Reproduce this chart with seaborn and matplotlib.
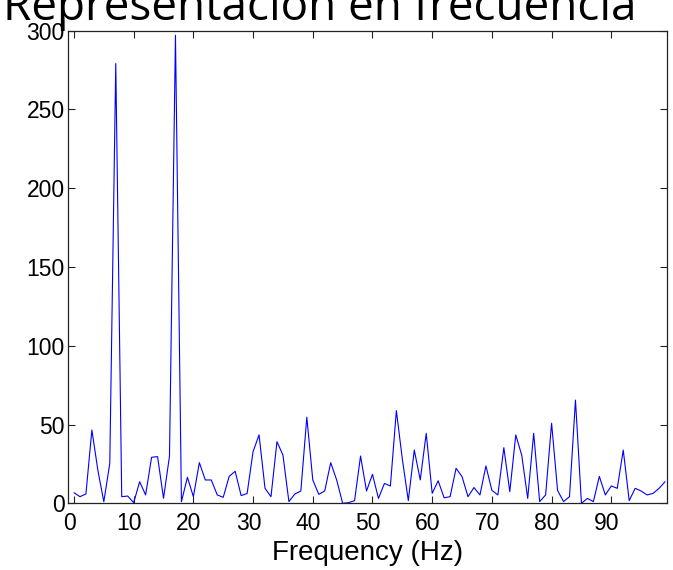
import numpy as np
import pandas as pd
import matplotlib
matplotlib.use("Agg")
import matplotlib.pyplot as plt
import matplotlib.transforms as mtransforms
import seaborn as sns

# Magnitude spectrum, one sample per Hz
freq_hz = list(range(0, 100))
magnitude = [
    6.7, 4.2, 5.9, 46.5, 21.0, 1.0, 25.4, 279.0, 4.2, 4.6,
    0.4, 13.7, 5.3, 29.2, 29.6, 3.2, 30.0, 297.0, 1.0, 16.5,
    4.2, 25.8, 14.8, 14.8, 5.3, 3.8, 17.1, 20.3, 4.9, 6.2,
    32.8, 43.4, 9.5, 4.2, 39.1, 30.6, 1.1, 5.9, 7.8, 54.6,
    14.8, 5.7, 7.8, 25.8, 14.8, 0.0, 0.4, 1.7, 30.0, 7.8,
    18.4, 3.1, 12.6, 11.0, 58.8, 28.0, 1.7, 33.8, 14.8, 44.4,
    6.3, 14.3, 3.5, 4.2, 22.2, 16.9, 4.2, 10.0, 5.3, 23.7,
    8.2, 5.3, 35.3, 7.4, 43.4, 30.5, 3.1, 44.4, 1.1, 5.3,
    50.8, 8.2, 1.1, 4.2, 65.5, 0.0, 3.1, 1.1, 17.1, 5.3,
    11.0, 9.5, 33.8, 1.7, 9.5, 7.8, 5.3, 6.3, 9.5, 13.7,
]
x_ticks = list(range(0, 100, 10))
y_ticks = list(range(0, 301, 50))
title_text = "Representación en frecuencia"
x_label = "Frequency (Hz)"

df = pd.DataFrame({"f": freq_hz, "mag": magnitude})

sns.set_style("white")
plt.rcParams["font.family"] = ["Liberation Sans", "DejaVu Sans"]
plt.rcParams["text.color"] = "black"
plt.rcParams["xtick.labelcolor"] = "black"
plt.rcParams["ytick.labelcolor"] = "black"
plt.rcParams["axes.labelcolor"] = "black"

W, H, DPI = 673, 570, 100
fig = plt.figure(figsize=(W / DPI, H / DPI), dpi=DPI)
ax = fig.add_axes([68.3 / W, 1 - 503.3 / H, (667 - 68.3) / W, (503.3 - 30.5) / H])

sns.lineplot(data=df, x="f", y="mag", ax=ax, color="#0000ff", linewidth=0.8,
             estimator=None, sort=False, legend=False)

ax.set_xlim(-0.95, 99.33)
ax.set_ylim(0, 300)
ax.set_xticks(x_ticks)
ax.set_yticks(y_ticks)

tick_font = ["Liberation Sans Narrow", "Liberation Sans", "DejaVu Sans"]
ax.set_xticklabels([str(t) for t in x_ticks], family=tick_font, fontsize=16.5, color="black")
ax.set_yticklabels([str(t) for t in y_ticks], family=tick_font, fontsize=16.5, color="black")

ax.tick_params(axis="both", which="both", direction="in", length=5, width=0.8,
               color="#222222", top=True, right=True, bottom=True, left=True)
ax.tick_params(axis="x", pad=6)
ax.tick_params(axis="y", pad=2.5)

# nudge x tick labels slightly left
shift = mtransforms.ScaledTranslation(-4.5 / DPI, 0, fig.dpi_scale_trans)
for lbl in ax.get_xticklabels():
    lbl.set_transform(lbl.get_transform() + shift)

for s in ax.spines.values():
    s.set_visible(True)
    s.set_color("#222222")
    s.set_linewidth(0.9)

ax.set_xlabel(x_label, fontsize=20, family=["Liberation Sans", "DejaVu Sans"],
              labelpad=4, color="black")
ax.set_ylabel("")

fig.text(320 / W, 1 - 20 / H, title_text, ha="center", va="baseline",
         fontsize=33, family=["Open Sans", "DejaVu Sans"], color="black")

fig.savefig("out.png", dpi=DPI, facecolor="white")
